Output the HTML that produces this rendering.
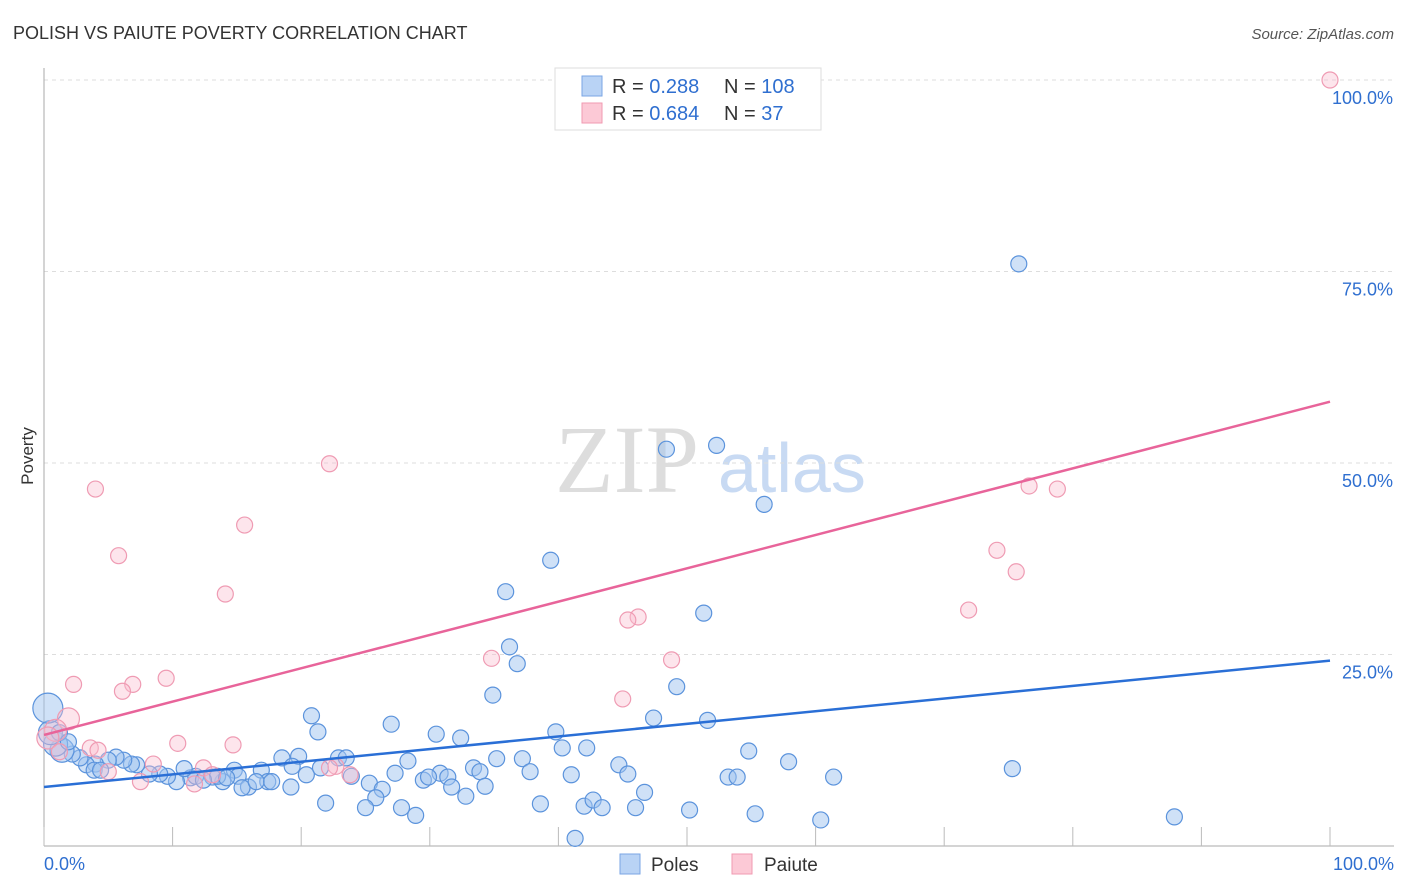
<!DOCTYPE html>
<html><head><meta charset="utf-8"><style>
body{margin:0;background:#fff;font-family:"Liberation Sans",sans-serif;}
#wrap{position:relative;width:1406px;height:892px;overflow:hidden;}
</style></head><body>
<div id="wrap">
<svg id="svg" width="1406" height="892" xmlns="http://www.w3.org/2000/svg">
<text x="13" y="39" font-size="18" fill="#333">POLISH VS PAIUTE POVERTY CORRELATION CHART</text>
<text x="1394" y="39" font-size="15" fill="#555" font-style="italic" text-anchor="end">Source: ZipAtlas.com</text>
<text x="0" y="0" transform="translate(33,456) rotate(-90)" font-size="17" fill="#333" text-anchor="middle">Poverty</text>
<text x="555" y="492" font-size="96" fill="#ddd" font-family="Liberation Serif,serif">ZIP</text>
<text x="718" y="492" font-size="70" fill="#c8daf3">atlas</text>
<g id="grid"></g><g id="marks"></g><g id="lines"></g>
<g>
<rect x="555" y="68" width="266" height="62" fill="#fff" stroke="#ddd"/>
<rect x="582" y="76" width="20" height="20" fill="#b9d3f5" stroke="#7aa6e4"/>
<rect x="582" y="103" width="20" height="20" fill="#fcc9d6" stroke="#f09ab1"/>
<text x="612" y="93" font-size="20" fill="#333">R = <tspan fill="#2f6fd0">0.288</tspan></text>
<text x="724" y="93" font-size="20" fill="#333">N = <tspan fill="#2f6fd0">108</tspan></text>
<text x="612" y="120" font-size="20" fill="#333">R = <tspan fill="#2f6fd0">0.684</tspan></text>
<text x="724" y="120" font-size="20" fill="#333">N = <tspan fill="#2f6fd0">  37</tspan></text>
</g>
<g>
<rect x="620" y="854" width="20" height="20" fill="#b9d3f5" stroke="#7aa6e4"/>
<text x="651" y="871" font-size="19" fill="#333">Poles</text>
<rect x="732" y="854" width="20" height="20" fill="#fcc9d6" stroke="#f09ab1"/>
<text x="764" y="871" font-size="19" fill="#333">Paiute</text>
</g>
</svg>
</div>
<script>
const yTicks=[25,50,75,100];
const yTickLabels=["25.0%","50.0%","75.0%","100.0%"];
const xTickLabels=["0.0%","100.0%"];
const bluePx=[[1019,264],[717,445],[667,449],[764,504],[551,560],[506,592],[704,613],[509,647],[517,664],[677,687],[493,695],[312,716],[653,718],[708,720],[318,732],[391,724],[556,732],[436,734],[461,738],[749,751],[587,748],[562,748],[339,758],[346,758],[408,761],[497,759],[523,759],[789,762],[619,765],[1012,769],[474,768],[480,772],[530,772],[571,775],[628,774],[728,777],[737,777],[834,777],[440,773],[448,777],[395,773],[299,756],[282,758],[261,770],[234,770],[238,776],[351,776],[369,783],[424,780],[429,777],[452,787],[485,786],[645,792],[382,789],[376,798],[291,787],[268,782],[248,787],[242,788],[223,782],[212,777],[190,778],[176,782],[168,776],[160,774],[150,774],[136,765],[132,764],[124,760],[116,757],[108,760],[96,764],[86,765],[80,758],[72,754],[62,750],[56,744],[50,733],[48,708],[60,733],[68,742],[94,770],[100,770],[196,776],[218,776],[226,778],[256,782],[272,782],[306,775],[326,803],[365,808],[402,808],[416,815],[466,796],[541,804],[584,806],[593,800],[602,808],[635,808],[690,810],[755,814],[821,820],[1174,817],[575,838],[204,780],[184,769],[292,766],[320,768]];
const pinkPx=[[1330,80],[329,464],[95,489],[1029,486],[1057,489],[244,525],[119,556],[997,550],[1016,572],[225,594],[969,610],[638,617],[628,620],[491,658],[672,660],[73,684],[166,678],[133,684],[123,691],[623,699],[178,743],[233,745],[68,719],[55,730],[48,738],[90,748],[98,750],[60,752],[140,782],[153,764],[195,784],[204,768],[212,775],[336,766],[350,775],[330,768],[108,772]];
// data values in percent
const bluePoints=bluePx.map(p=>[+((p[0]-44)/12.86).toFixed(1),+((846-p[1])/7.66).toFixed(1)]);
const pinkPoints=pinkPx.map(p=>[+((p[0]-44)/12.86).toFixed(1),+((846-p[1])/7.66).toFixed(1)]);
const blueTrend=[7.7,24.2];
const pinkTrend=[14.5,58.0];
const X=v=>44+v*12.86, Y=v=>846-v*7.66;
const NS="http://www.w3.org/2000/svg";
function mk(t,a,p){const e=document.createElementNS(NS,t);for(const k in a)e.setAttribute(k,a[k]);p.appendChild(e);return e;}
const grid=document.getElementById('grid');
yTicks.forEach((t,i)=>{
 const l=mk('line',{x1:44,x2:1394,y1:Y(t),y2:Y(t),stroke:'#ddd','stroke-dasharray':'4,4'},grid);
 
 
 const tx=mk('text',{x:1393,y:Y(t)+24,'font-size':18,fill:'#2f6fd0','text-anchor':'end'},grid);tx.textContent=yTickLabels[i];
 
 
});
const ax=mk('line',{x1:44,x2:44,y1:68,y2:846,stroke:'#aaa'},grid);


const bx=mk('line',{x1:44,x2:1394,y1:846,y2:846,stroke:'#aaa'},grid);


for(let i=0;i<=10;i++){const t=mk('line',{x1:X(i*10),x2:X(i*10),y1:827,y2:846,stroke:'#bbb'},grid);
 
 }
[[0,'start',44],[100,'end',1394]].forEach((d,i)=>{const t=mk('text',{x:d[2],y:870,'font-size':18,fill:'#2f6fd0','text-anchor':d[1]},grid);t.textContent=xTickLabels[i];
 
 });
const marks=document.getElementById('marks');
bluePoints.forEach((p,i)=>{const r=(i==78)?15:(i==75||i==76||i==77)?12:8;
 const c=mk('circle',{cx:X(p[0]),cy:Y(p[1]),r:r,fill:'rgba(160,196,240,0.5)',stroke:'#5b93dc','stroke-width':1.2},marks);
 
 });
pinkPoints.forEach((p,i)=>{const r=(i==22||i==23||i==24)?11:8;
 const c=mk('circle',{cx:X(p[0]),cy:Y(p[1]),r:r,fill:'rgba(250,190,208,0.4)',stroke:'#ef9bb3','stroke-width':1.2},marks);
 
 });
const lines=document.getElementById('lines');
const bl=mk('line',{x1:X(0),y1:Y(blueTrend[0]),x2:X(100),y2:Y(blueTrend[1]),stroke:'#2a6fd6','stroke-width':2.5},lines);


const pl=mk('line',{x1:X(0),y1:Y(pinkTrend[0]),x2:X(100),y2:Y(pinkTrend[1]),stroke:'#e8649a','stroke-width':2.5},lines);


</script>
</body></html>
